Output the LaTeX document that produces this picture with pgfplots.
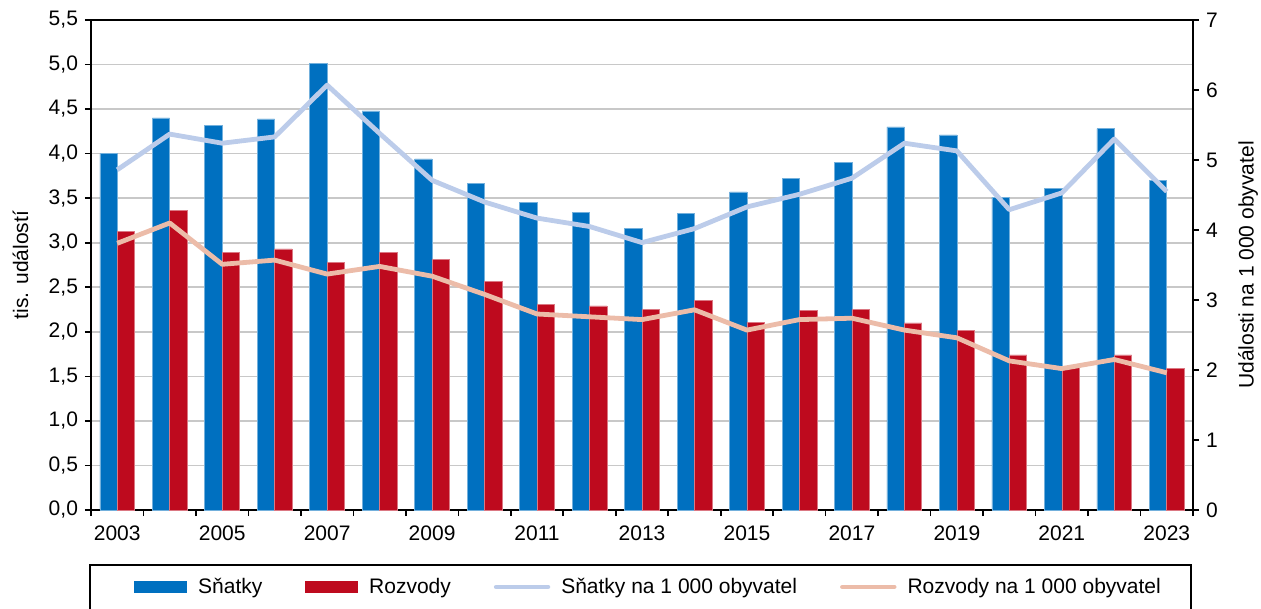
\documentclass[border=0pt]{standalone}
\usepackage{fontspec}
\setmainfont{Liberation Sans}
\usepackage{pgfplots}
\pgfplotsset{compat=1.18}
\usepackage{pgfplotstable}
\definecolor{cblue}{HTML}{0070C0}
\definecolor{cred}{HTML}{BE0A1E}
\definecolor{clblue}{HTML}{BCCCEA}
\definecolor{cpink}{HTML}{ECBCA9}
\definecolor{cgrid}{HTML}{C8C8C8}

\pgfplotstableread{
x y
0 4.00
1 4.40
2 4.32
3 4.39
4 5.01
5 4.48
6 3.94
7 3.67
8 3.45
9 3.34
10 3.16
11 3.33
12 3.57
13 3.72
14 3.90
15 4.30
16 4.21
17 3.51
18 3.61
19 4.28
20 3.70
}\snatky
\pgfplotstableread{
x y
0 3.13
1 3.36
2 2.89
3 2.93
4 2.78
5 2.89
6 2.81
7 2.57
8 2.31
9 2.29
10 2.25
11 2.35
12 2.11
13 2.24
14 2.25
15 2.10
16 2.02
17 1.74
18 1.60
19 1.74
20 1.59
}\rozvody
\pgfplotstableread{
x y
0 4.86
1 5.37
2 5.24
3 5.33
4 6.07
5 5.38
6 4.71
7 4.40
8 4.17
9 4.05
10 3.82
11 4.02
12 4.33
13 4.51
14 4.74
15 5.24
16 5.13
17 4.29
18 4.53
19 5.30
20 4.55
}\snatkyrel
\pgfplotstableread{
x y
0 3.81
1 4.10
2 3.51
3 3.57
4 3.37
5 3.48
6 3.34
7 3.08
8 2.80
9 2.76
10 2.72
11 2.86
12 2.57
13 2.72
14 2.74
15 2.57
16 2.46
17 2.13
18 2.02
19 2.15
20 1.96
}\rozvodyrel

\begin{document}
\begin{tikzpicture}
\pgfplotsset{
  every tick label/.append style={font=\fontsize{10.5}{12}\selectfont},
  every axis label/.append style={font=\fontsize{10.5}{12}\selectfont},
}
\begin{axis}[
  at={(0,0)}, anchor=south west,
  scale only axis, width=551pt, height=245pt,
  xmin=-0.5, xmax=20.5, ymin=0, ymax=5.5,
  axis line style={black, line width=1pt},
  tick align=outside,
  xtick pos=lower, ytick pos=left,
  xtick={-0.5,0.5,...,20.5},
  xticklabels={},
  extra x ticks={0,2,...,20},
  extra x tick labels={2003,2005,2007,2009,2011,2013,2015,2017,2019,2021,2023},
  extra x tick style={major tick length=0pt, tick label style={yshift=-4.5pt}},
  major tick length=3pt,
  tick style={black, line width=0.8pt},
  ytick={0,0.5,...,5.5},
  ymajorgrids,
  grid style={cgrid, line width=0.8pt},
  y tick label style={/pgf/number format/.cd, fixed, fixed zerofill, precision=1, use comma, assume math mode=true},
  ylabel={tis. událostí},
  ylabel style={at={(axis description cs:-0.064,0.5)}, anchor=center},
]
\addplot[ybar, bar width=8.7pt, bar shift=-4.35pt, fill=cblue, draw=cblue!55!white, line width=0.3pt] table[x=x,y=y] {\snatky};
\addplot[ybar, bar width=8.7pt, bar shift=4.35pt, fill=cred, draw=cred!55!white, line width=0.3pt] table[x=x,y=y] {\rozvody};
\end{axis}
\begin{axis}[
  at={(0,0)}, anchor=south west,
  scale only axis, width=551pt, height=245pt,
  xmin=-0.5, xmax=20.5, ymin=0, ymax=7,
  axis x line=none, axis y line*=right,
  axis line style={black, line width=1pt},
  tick align=outside,
  major tick length=3pt,
  tick style={black, line width=0.8pt},
  ytick={0,1,...,7},
  y tick label style={/pgf/number format/assume math mode=true},
  ylabel={Události na 1 000 obyvatel},
  ylabel style={at={(axis description cs:1.05,0.5)}, anchor=center},
  legend columns=4,
  legend style={draw=none, fill=none, inner sep=0pt,
    at={(axis description cs:0.039,-0.157)}, anchor=west,
    font=\fontsize{10.5}{12}\selectfont,
    nodes={inner sep=0pt},
    /tikz/every odd column/.append style={column sep=5.5pt},
    /tikz/every even column/.append style={column sep=21.5pt}},
]
\addlegendimage{legend image code/.code={\fill[cblue] (0pt,-2.75pt) rectangle (26pt,2.75pt);}}
\addlegendentry{Sňatky}
\addlegendimage{legend image code/.code={\fill[cred] (0pt,-2.75pt) rectangle (26pt,2.75pt);}}
\addlegendentry{Rozvody}
\addplot[clblue, line width=2.4pt, line join=round, legend image code/.code={\draw[clblue, line width=2.2pt, line cap=round] (0pt,0pt) -- (26pt,0pt);}] table[x=x,y=y] {\snatkyrel};
\addlegendentry{Sňatky na 1 000 obyvatel}
\addplot[cpink, line width=2.4pt, line join=round, legend image code/.code={\draw[cpink, line width=2.2pt, line cap=round] (0pt,0pt) -- (26pt,0pt);}] table[x=x,y=y] {\rozvodyrel};
\addlegendentry{Rozvody na 1 000 obyvatel}
\end{axis}
\draw[black, line width=0.8pt] (-0.5pt,-27.5pt) rectangle (550pt,-70pt);
\pgfresetboundingbox
\path[use as bounding box] (-45.5pt,-49.5pt) rectangle (585pt,255pt);
\end{tikzpicture}
\end{document}
